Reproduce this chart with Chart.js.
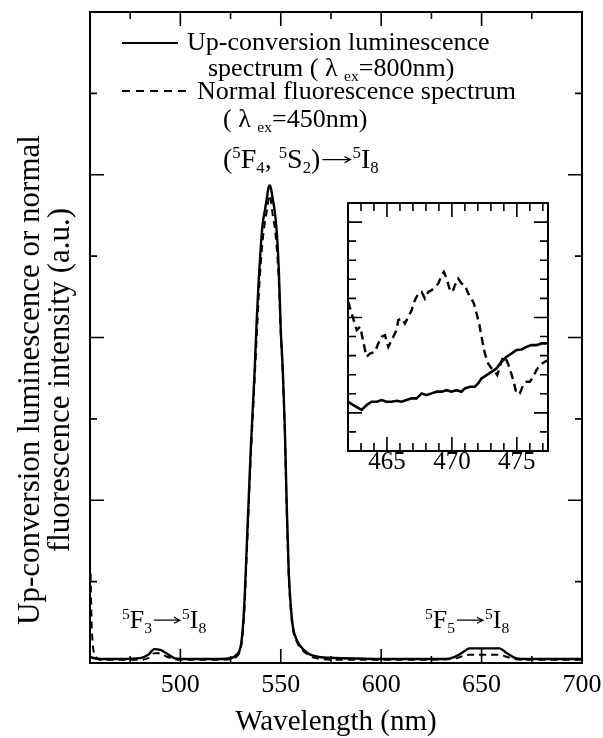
<!DOCTYPE html>
<html>
<head>
<meta charset="utf-8">
<script src="https://cdn.jsdelivr.net/npm/chart.js@4.4.1/dist/chart.umd.min.js"></script>
<style>
  body { margin: 0; background: #fff; }
  #wrap { position: relative; width: 603px; height: 738px; }
  #main { position: absolute; left: 0; top: 0; }
  #inset { position: absolute; left: 330px; top: 190px; }
</style>
</head>
<body>
<div id="wrap">
  <canvas id="main" width="603" height="738"></canvas>
  <canvas id="inset" width="240" height="300"></canvas>
</div>
<script>
// ana grafik verileri (nm, a.u.)
const upWl = [455,460,470,480,484,487,490,493,497,500, 510,520,525,528,530,531,532,533,534,535,
  536,537,538,539,540,541,542,543,544,544.7, 545.5,546,547,548,549,550,551,552,553,554,
  555,556,558,560,563,566,570,580,600,620, 632,636,640,644,650,655,659,662,666,670, 680,700];
const upInt = [0.07,0.05,0.05,0.06,0.1,0.17,0.16,0.12,0.06,0.05, 0.05,0.05,0.06,0.1,0.2,0.4,0.8,1.4,2.0,2.6,
  3.1,3.6,4.2,4.7,5.1,5.4,5.55,5.7,5.85,5.87, 5.78,5.7,5.55,5.3,4.85,4.1,3.6,2.9,1.9,1.1,
  0.7,0.45,0.28,0.2,0.13,0.09,0.07,0.06,0.05,0.05, 0.05,0.07,0.12,0.18,0.18,0.18,0.18,0.13,0.07,0.05, 0.05,0.05];

const nfWl = [455.3,455.5,455.8,456.3,457,458,460,465,470,480, 484,487,490,493,497,500,510,520,525,528,
  530,531,532,533,534,535,536,537,538,539, 540,541,542,543,544,544.6,545.3,546,547,548,
  549,550,551,552,553,554,555,556,558,560, 563,566,570,580,600,620,636,640,644,650,
  655,659,662,666,670,680,700];
const nfInt = [1.1,0.8,0.5,0.25,0.12,0.07,0.04,0.04,0.04,0.04, 0.06,0.12,0.12,0.08,0.05,0.04,0.04,0.04,0.05,0.08,
  0.17,0.35,0.7,1.3,1.9,2.5,3.0,3.5,4.0,4.5, 4.9,5.2,5.4,5.55,5.7,5.75,5.65,5.5,5.35,5.1,
  4.7,4.05,3.55,2.85,1.85,1.05,0.65,0.42,0.26,0.18, 0.11,0.07,0.05,0.04,0.04,0.04,0.05,0.08,0.1,0.1,
  0.1,0.1,0.08,0.05,0.04,0.04,0.04];

// iç grafik verileri (462-477 nm)
const insUpWl = [462.02,462.41,463.05,463.44,463.82,464.21,464.59,464.97,465.36,465.74,
  466.13,466.51,466.90,467.28,467.67,468.05,468.44,468.82,469.21,469.59,
  469.97,470.36,470.74,471.00,471.38,471.77,472.02,472.28,472.67,473.05,
  473.44,473.82,474.21,474.59,474.97,475.36,475.74,476.13,476.51,476.90,477.15,477.4];
const insUpInt = [2.58,2.41,2.15,2.41,2.58,2.58,2.67,2.58,2.58,2.63,
  2.58,2.67,2.76,2.76,3.02,2.93,3.02,3.11,3.11,3.19,
  3.11,3.19,3.11,3.28,3.37,3.37,3.54,3.80,3.98,4.15,
  4.33,4.68,4.94,5.11,5.29,5.32,5.46,5.55,5.55,5.64,5.64,5.64];

const insNfWl = [462.02,462.28,462.67,462.92,463.05,463.31,463.44,463.69,464.08,464.33,
  464.59,464.85,465.10,465.49,465.74,465.87,466.13,466.38,466.64,466.90,
  467.15,467.41,467.67,467.92,468.18,468.44,468.69,468.95,469.21,469.38,
  469.59,469.85,470.05,470.23,470.49,470.74,471.00,471.26,471.51,471.69,
  471.90,472.10,472.28,472.54,472.79,473.05,473.31,473.49,473.69,473.95,
  474.21,474.46,474.72,474.97,475.23,475.49,475.74,476.00,476.26,476.51,476.77,477.15,477.4];
const insNfInt = [7.82,7.21,6.34,6.51,6.16,5.29,4.94,5.11,5.20,5.64,
  5.99,6.07,5.46,5.99,6.34,6.86,6.95,6.68,7.03,7.38,
  7.91,8.25,8.34,7.99,8.34,8.43,8.60,8.78,9.21,9.39,
  9.04,8.43,8.34,8.69,9.04,8.78,8.69,8.25,7.99,7.73,
  7.21,6.68,5.99,5.11,4.59,4.33,4.15,3.98,4.42,4.94,
  4.76,4.33,3.72,3.02,3.02,3.46,3.63,3.63,3.89,4.24,4.50,4.68,4.75];

// eksen işaretleri
const xTickLabels = [500, 550, 600, 650, 700];
const xMinorTicks = [475, 500, 525, 550, 575, 600, 625, 650, 675];
const yMinorTicks = [1, 2, 3, 4, 5, 6, 7];
const yMajorTicks = [2, 4, 6];
const insXTickLabels = [465, 470, 475];
const insXMinorTicks = [463,464,465,466,467,468,469,470,471,472,473,474,475,476,477];
const insYMinorTicks = [1,2,3,4,5,6,7,8,9,10,11,12];
const insYMajorTicks = [2, 7, 12];

const SERIF = "'Liberation Serif', 'Times New Roman', serif";

function pts(xs, ys) {
  return xs.map((v, i) => ({ x: v, y: ys[i] }));
}

// üst/alt indisli metin yazan yardımcı
function richText(ctx, x, y, parts, size) {
  let cx = x;
  parts.forEach(([txt, kind]) => {
    if (kind === 'arrow') {
      const w = size * 1.15, ay = y - size * 0.3;
      ctx.save();
      ctx.lineWidth = 1.2;
      ctx.beginPath();
      ctx.moveTo(cx + 2, ay); ctx.lineTo(cx + w - 2, ay);
      ctx.moveTo(cx + w - 8, ay - 3); ctx.lineTo(cx + w - 2, ay); ctx.lineTo(cx + w - 8, ay + 3);
      ctx.stroke();
      ctx.restore();
      cx += w;
      return;
    }
    let fs = size, dy = 0;
    if (kind === 'sup') { fs = size * 0.6; dy = -size * 0.36; }
    if (kind === 'sub') { fs = size * 0.6; dy = size * 0.18; }
    ctx.font = fs + 'px ' + SERIF;
    ctx.fillText(txt, cx, y + dy);
    cx += ctx.measureText(txt).width;
  });
}

// çerçeve ve içe dönük çentikler
function drawFrame(chart, t) {
  const { ctx, chartArea: a, scales: { x, y } } = chart;
  ctx.save();
  ctx.strokeStyle = '#000';
  ctx.lineWidth = 2;
  ctx.strokeRect(a.left, a.top, a.right - a.left, a.bottom - a.top);
  ctx.lineWidth = 1.6;
  ctx.beginPath();
  t.xMinor.forEach(v => {
    const p = x.getPixelForValue(v);
    const L = t.xMajor.includes(v) ? t.major : t.minor;
    ctx.moveTo(p, a.bottom); ctx.lineTo(p, a.bottom - L);
    ctx.moveTo(p, a.top); ctx.lineTo(p, a.top + L);
  });
  t.yMinor.forEach(v => {
    const p = y.getPixelForValue(v);
    const L = t.yMajor.includes(v) ? t.major : t.minor;
    ctx.moveTo(a.left, p); ctx.lineTo(a.left + L, p);
    ctx.moveTo(a.right, p); ctx.lineTo(a.right - L, p);
  });
  ctx.stroke();
  ctx.fillStyle = '#000';
  ctx.textAlign = 'center';
  ctx.textBaseline = 'alphabetic';
  ctx.font = t.labelSize + 'px ' + SERIF;
  t.xMajor.forEach(v => {
    ctx.fillText(String(v), x.getPixelForValue(v), a.bottom + t.labelOffset);
  });
  ctx.restore();
}

const mainPlugin = {
  id: 'mainDecor',
  afterDraw(chart) {
    drawFrame(chart, { xMinor: xMinorTicks, xMajor: xTickLabels, yMinor: yMinorTicks, yMajor: yMajorTicks,
      major: 14, minor: 7, labelSize: 26, labelOffset: 29 });
    const ctx = chart.ctx;
    const a = chart.chartArea;
    ctx.save();
    ctx.fillStyle = '#000';
    ctx.strokeStyle = '#000';
    ctx.textAlign = 'center';
    ctx.font = '29px ' + SERIF;
    ctx.fillText('Wavelength (nm)', (a.left + a.right) / 2, 730);
    // y ekseni başlığı
    ctx.save();
    ctx.translate(39, 380);
    ctx.rotate(-Math.PI / 2);
    ctx.font = '31px ' + SERIF;
    ctx.fillText('Up-conversion luminescence or normal', 0, 0);
    ctx.fillText('fluorescence intensity (a.u.)', 0, 30);
    ctx.restore();
    // lejant
    ctx.textAlign = 'left';
    ctx.lineWidth = 2;
    ctx.beginPath(); ctx.moveTo(122, 43); ctx.lineTo(178, 43); ctx.stroke();
    ctx.setLineDash([8, 6]);
    ctx.beginPath(); ctx.moveTo(122, 91); ctx.lineTo(192, 91); ctx.stroke();
    ctx.setLineDash([]);
    richText(ctx, 187, 50, [['Up-conversion luminescence', 'n']], 26);
    richText(ctx, 208, 76, [['spectrum ( λ ', 'n'], ['ex', 'sub'], ['=800nm)', 'n']], 26);
    richText(ctx, 197, 99, [['Normal fluorescence spectrum', 'n']], 26);
    richText(ctx, 223, 127, [['( λ ', 'n'], ['ex', 'sub'], ['=450nm)', 'n']], 26);
    // geçiş etiketleri
    richText(ctx, 223, 168, [['(', 'n'], ['5', 'sup'], ['F', 'n'], ['4', 'sub'], [', ', 'n'], ['5', 'sup'], ['S', 'n'],
      ['2', 'sub'], [')', 'n'], ['', 'arrow'], ['5', 'sup'], ['I', 'n'], ['8', 'sub']], 28);
    richText(ctx, 122, 628, [['5', 'sup'], ['F', 'n'], ['3', 'sub'], ['', 'arrow'], ['5', 'sup'], ['I', 'n'], ['8', 'sub']], 26);
    richText(ctx, 425, 628, [['5', 'sup'], ['F', 'n'], ['5', 'sub'], ['', 'arrow'], ['5', 'sup'], ['I', 'n'], ['8', 'sub']], 26);
    ctx.restore();
  }
};

const insetPlugin = {
  id: 'insetDecor',
  beforeDatasetsDraw(chart) {
    const a = chart.chartArea;
    chart.ctx.save();
    chart.ctx.fillStyle = '#fff';
    chart.ctx.fillRect(a.left, a.top, a.right - a.left, a.bottom - a.top);
    chart.ctx.restore();
  },
  afterDraw(chart) {
    drawFrame(chart, { xMinor: insXMinorTicks, xMajor: insXTickLabels, yMinor: insYMinorTicks, yMajor: insYMajorTicks,
      major: 14, minor: 8, labelSize: 25, labelOffset: 18 });
  }
};

new Chart(document.getElementById('main'), {
  type: 'line',
  data: {
    datasets: [
      { label: 'Up-conversion', data: pts(upWl, upInt), borderColor: '#000', borderWidth: 2.4,
        pointRadius: 0, cubicInterpolationMode: 'monotone' },
      { label: 'Normal', data: pts(nfWl, nfInt), borderColor: '#000', borderWidth: 2, borderDash: [7, 5],
        pointRadius: 0, cubicInterpolationMode: 'monotone' }
    ]
  },
  options: {
    responsive: false,
    animation: false,
    layout: { padding: { left: 90, right: 21, top: 12, bottom: 75 } },
    plugins: { legend: { display: false }, tooltip: { enabled: false } },
    scales: {
      x: { type: 'linear', min: 455, max: 700, display: false },
      y: { type: 'linear', min: 0, max: 8, display: false }
    }
  },
  plugins: [mainPlugin]
});

new Chart(document.getElementById('inset'), {
  type: 'line',
  data: {
    datasets: [
      { label: 'Up-conversion', data: pts(insUpWl, insUpInt), borderColor: '#000', borderWidth: 2.6,
        pointRadius: 0, tension: 0 },
      { label: 'Normal', data: pts(insNfWl, insNfInt), borderColor: '#000', borderWidth: 2.4, borderDash: [8, 5],
        pointRadius: 0, tension: 0 }
    ]
  },
  options: {
    responsive: false,
    animation: false,
    layout: { padding: { left: 18, right: 22, top: 13, bottom: 39 } },
    plugins: { legend: { display: false }, tooltip: { enabled: false } },
    scales: {
      x: { type: 'linear', min: 462, max: 477.4, display: false },
      y: { type: 'linear', min: 0, max: 13, display: false }
    }
  },
  plugins: [insetPlugin]
});
</script>
</body>
</html>
